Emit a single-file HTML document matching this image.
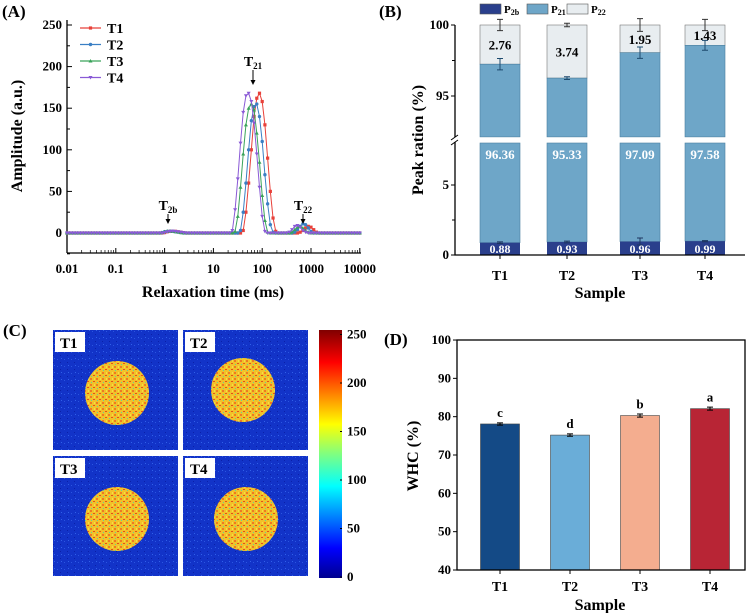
<!DOCTYPE html>
<html><head><meta charset="utf-8">
<style>
body{margin:0;background:#fff;}
svg{display:block;font-family:"Liberation Serif",serif;font-weight:bold;}
</style></head>
<body>
<svg id="fig" width="754" height="613" viewBox="0 0 754 613" xmlns="http://www.w3.org/2000/svg">
<defs>
<pattern id="noiseBg" width="7" height="7" patternUnits="userSpaceOnUse">
<rect width="7" height="7" fill="#1233c8"/>
<rect x="1" y="2" width="1" height="1" fill="#2a55e0"/><rect x="4" y="5" width="1" height="1" fill="#0a20a8"/><rect x="5" y="1" width="1" height="1" fill="#3060e8"/>
</pattern>
<pattern id="noiseFg" width="6" height="6" patternUnits="userSpaceOnUse">
<rect width="6" height="6" fill="#f2c12a"/>
<rect x="0" y="0" width="2" height="2" fill="#ee7a22"/><rect x="3" y="3" width="2" height="1" fill="#e5501a"/><rect x="4" y="0" width="1" height="2" fill="#f4e040"/><rect x="1" y="4" width="1" height="1" fill="#60d0a0"/>
</pattern>
<linearGradient id="jet" x1="0" y1="1" x2="0" y2="0">
<stop offset="0" stop-color="#00008f"/><stop offset="0.12" stop-color="#0000ff"/><stop offset="0.37" stop-color="#00ffff"/><stop offset="0.5" stop-color="#80ff80"/><stop offset="0.62" stop-color="#ffff00"/><stop offset="0.87" stop-color="#ff0000"/><stop offset="1" stop-color="#800000"/>
</linearGradient>
</defs>
<g id="pA"></g>
<g id="pB"></g>
<g id="pC"></g>
<g id="pD"></g>
</svg>
<script>
// ---------- Panel A data ----------
const seriesNames = ["T1","T2","T3","T4"];
const seriesColors = ["#e8413a","#3a7fc4","#3aa35a","#8a5ad6"];
const xTickLabels = ["0.01","0.1","1","10","100","1000","10000"];
const yTickLabelsA = [0,50,100,150,200,250];
// amplitudes on a log grid (18 points per decade, starting 0.01 ms); segments [startIndex, values]
const t1Peak2b = [36, [0.5,1.5,2,2,2,1.5,1,0.5]];
const t2Peak2b = [35, [0.5,1.5,2,2.2,2,1.5,1,0.5]];
const t3Peak2b = [35, [0.5,1.5,2.2,2.2,2,1.5,1,0.5]];
const t4Peak2b = [36, [0.5,1.5,2,2.2,2,1.5,1,0.5]];
const t1Peak21 = [65, [3,25,60,100,140,162,168,158,130,90,50,18,2]];
const t2Peak21 = [64, [3,25,60,100,135,152,155,140,110,70,35,10,1]];
const t3Peak21 = [62, [2,20,55,95,130,150,155,148,120,85,45,15,1]];
const t4Peak21 = [61, [3,28,65,108,145,165,168,158,132,95,55,20,2]];
const t1Peak22 = [86, [1,3,6,8,7,4,1]];
const t2Peak22 = [84, [1,4,8,11,10,6,2]];
const t3Peak22 = [83, [1,4,7,8,6,3,1]];
const t4Peak22 = [82, [1,4,8,9,7,3,1]];
const seriesSegments = [[t1Peak2b,t1Peak21,t1Peak22],[t2Peak2b,t2Peak21,t2Peak22],[t3Peak2b,t3Peak21,t3Peak22],[t4Peak2b,t4Peak21,t4Peak22]];

// ---------- Panel B data ----------
const samples = ["T1","T2","T3","T4"];
const p2b = [0.88,0.93,0.96,0.99];
const p21 = [96.36,95.33,97.09,97.58];
const p22 = [2.76,3.74,1.95,1.43];
const p2bErr = [0.06,0.06,0.25,0.04];
const p21Err = [0.4,0.1,0.4,0.35];
const p22Err = [0.4,0.12,0.45,0.4];

// ---------- Panel D data ----------
const whc = [78.1,75.2,80.3,82.1];
const whcErr = [0.3,0.3,0.4,0.4];
const whcLetters = ["c","d","b","a"];
const whcColors = ["#144a86","#6aadd8","#f4ad8f","#b82535"];
const yTickLabelsD = [40,50,60,70,80,90,100];

const NS="http://www.w3.org/2000/svg";
function mk(parent,tag,attrs,text){const e=document.createElementNS(NS,tag);for(const k in attrs)e.setAttribute(k,attrs[k]);if(text!==undefined)e.textContent=text;parent.appendChild(e);return e;}

// ================= Panel A =================
(function(){
const g=document.getElementById('pA');
const xA=t=>67+48.8*(Math.log10(t)+2);
const yA=v=>233-0.832*v;
let e=mk(g,'text',{x:2,y:17,'font-size':17},'(A)');

e=mk(g,'line',{x1:67,y1:20,x2:67,y2:253,stroke:'#000','stroke-width':1.3});

e=mk(g,'line',{x1:67,y1:253,x2:361,y2:253,stroke:'#000','stroke-width':1.3});

yTickLabelsA.forEach(v=>{
 mk(g,'line',{x1:67,y1:yA(v),x2:72,y2:yA(v),stroke:'#000'});
 e=mk(g,'text',{x:62,y:yA(v)+4,'text-anchor':'end','font-size':13},v);
 
 if(v<250)mk(g,'line',{x1:67,y1:yA(v+25),x2:70,y2:yA(v+25),stroke:'#000'});
});
mk(g,'line',{x1:67,y1:yA(-25),x2:70,y2:yA(-25),stroke:'#000'});
xTickLabels.forEach((lab,i)=>{
 const t=0.01*Math.pow(10,i);
 mk(g,'line',{x1:xA(t),y1:253,x2:xA(t),y2:248,stroke:'#000'});
 e=mk(g,'text',{x:xA(t),y:273,'text-anchor':'middle','font-size':13},lab);
 
 if(i<6)for(let m=2;m<10;m++)mk(g,'line',{x1:xA(t*m),y1:253,x2:xA(t*m),y2:250,stroke:'#000','stroke-width':0.7});
});
e=mk(g,'text',{x:213,y:297,'text-anchor':'middle','font-size':16},'Relaxation time (ms)');

e=mk(g,'text',{x:0,y:0,'text-anchor':'middle','font-size':16,transform:'translate(22,136) rotate(-90)'},'Amplitude (a.u.)');

const N=109;
function marker(par,k,x,y,c){
 let m;
 if(k===0)m=mk(par,'rect',{x:x-1.6,y:y-1.6,width:3.2,height:3.2,fill:c});
 else if(k===1)m=mk(par,'circle',{cx:x,cy:y,r:1.7,fill:c});
 else if(k===2)m=mk(par,'path',{d:`M${x},${y-2}L${x+2},${y+1.5}L${x-2},${y+1.5}Z`,fill:c});
 else m=mk(par,'path',{d:`M${x},${y+2}L${x+2},${y-1.5}L${x-2},${y-1.5}Z`,fill:c});
 return m;
}
seriesSegments.forEach((segs,k)=>{
 const vals=new Array(N).fill(0);
 segs.forEach(s=>s[1].forEach((v,j)=>{vals[s[0]+j]=v;}));
 const sg=mk(g,'g',{});
 
 
 const pts=vals.map((v,i)=>{const t=0.01*Math.pow(10,i/18);return [xA(t),yA(v)];});
 mk(sg,'polyline',{points:pts.map(p=>p.join(',')).join(' '),fill:'none',stroke:seriesColors[k],'stroke-width':1});
 pts.forEach(p=>{const m=marker(sg,k,p[0],p[1],seriesColors[k]);});
});
seriesNames.forEach((n,k)=>{
 const y=28+k*16.5;
 const lg=mk(g,'g',{});
 
 
 mk(lg,'line',{x1:80,y1:y,x2:101,y2:y,stroke:seriesColors[k],'stroke-width':1.2});
 marker(lg,k,90.5,y,seriesColors[k]);
 mk(lg,'text',{x:107,y:y+5,'font-size':14},n);
});
function ann(x,yt,ya,main,sub,name){
 const ag=mk(g,'g',{});
 
 const t=mk(ag,'text',{x:x,y:yt,'text-anchor':'middle','font-size':14},main);
 mk(t,'tspan',{'font-size':9,dy:3},sub);
 mk(ag,'line',{x1:x,y1:yt+4,x2:x,y2:ya-4,stroke:'#000'});
 mk(ag,'path',{d:`M${x-2.5},${ya-5}L${x+2.5},${ya-5}L${x},${ya}Z`});
}
ann(168,210,224,'T','2b','annotation-t2b');
ann(253,66,85,'T','21','annotation-t21');
ann(303,210,224,'T','22','annotation-t22');
})();

// ================= Panel B =================
(function(){
const g=document.getElementById('pB');
const yB=v=>v<=8?255-14*v:25+(100-v)*14.2;
const xC=[500,567,640,705], bw=40;
let e=mk(g,'text',{x:379,y:17,'font-size':17},'(B)');

[["#2a3f8c","2b"],["#6ea6c8","21"],["#e8edf0","22"]].forEach((l,i)=>{
 const x=[480,527,567][i];
 const lg=mk(g,'g',{});
 
 mk(lg,'rect',{x:x,y:4,width:21,height:10,fill:l[0],stroke:'#555','stroke-width':0.6});
 const t=mk(lg,'text',{x:x+24,y:13,'font-size':11},'P');
 mk(t,'tspan',{'font-size':8,dy:2},l[1]);
});
samples.forEach((s,i)=>{
 const x=xC[i]-bw/2;
 const bg=mk(g,'g',{});
 
 const top21=p2b[i]+p21[i];
 let r=mk(bg,'rect',{x:x,y:yB(100),width:bw,height:yB(top21)-yB(100),fill:'#e8edf0',stroke:'#777','stroke-width':0.6});
 
 r=mk(bg,'rect',{x:x,y:yB(top21),width:bw,height:yB(92.12)-yB(top21),fill:'#6ea6c8',stroke:'#4a7fa0','stroke-width':0.6});
 
 r=mk(bg,'rect',{x:x,y:yB(8),width:bw,height:yB(p2b[i])-yB(8),fill:'#6ea6c8',stroke:'#4a7fa0','stroke-width':0.6});
 
 r=mk(bg,'rect',{x:x,y:yB(p2b[i]),width:bw,height:yB(0)-yB(p2b[i]),fill:'#2a3f8c'});
 
 function eb(v,err,c){const a=yB(v+err),b=yB(v-err);mk(bg,'path',{d:`M${xC[i]},${a}V${b}M${xC[i]-3},${a}H${xC[i]+3}M${xC[i]-3},${b}H${xC[i]+3}`,stroke:c,'stroke-width':1,fill:'none'});}
 eb(100,p22Err[i],'#333');eb(top21,p21Err[i],'#1d4a6e');eb(p2b[i],p2bErr[i],'#1d3560');
 let t=mk(bg,'text',{x:xC[i],y:(yB(100)+yB(top21))/2+5,'text-anchor':'middle','font-size':13},p22[i].toFixed(2));
 
 t=mk(bg,'text',{x:xC[i],y:159,'text-anchor':'middle','font-size':13,fill:'#fff'},p21[i].toFixed(2));
 
 t=mk(bg,'text',{x:xC[i],y:yB(0)-2,'text-anchor':'middle','font-size':12,fill:'#fff'},p2b[i].toFixed(2));
 
 mk(g,'line',{x1:xC[i],y1:255,x2:xC[i],y2:259,stroke:'#000'});
 t=mk(g,'text',{x:xC[i],y:280,'text-anchor':'middle','font-size':14},s);
 
});
e=mk(g,'path',{d:'M455,25V137M455,142V255H745',stroke:'#000','stroke-width':1.3,fill:'none'});

mk(g,'path',{d:'M451,140L458,135M451,145L458,140',stroke:'#000','stroke-width':1});
[[100,'100'],[95,'95'],[5,'5'],[0,'0']].forEach(tk=>{
 mk(g,'line',{x1:451,y1:yB(tk[0]),x2:455,y2:yB(tk[0]),stroke:'#000'});
 const t=mk(g,'text',{x:449,y:yB(tk[0])+4,'text-anchor':'end','font-size':13},tk[1]);
 
});
[97.5,2.5].forEach(v=>mk(g,'line',{x1:452,y1:yB(v),x2:455,y2:yB(v),stroke:'#000'}));
e=mk(g,'text',{x:600,y:298,'text-anchor':'middle','font-size':16},'Sample');

e=mk(g,'text',{x:0,y:0,'text-anchor':'middle','font-size':16,transform:'translate(423,140) rotate(-90)'},'Peak ration (%)');

})();

// ================= Panel C =================
(function(){
const g=document.getElementById('pC');
let e=mk(g,'text',{x:3,y:336,'font-size':17},'(C)');

const imgs=[["T1",53,330,64,63],["T2",183,330,60,60],["T3",53,456,64,63],["T4",183,456,63,63]];
imgs.forEach(im=>{
 const ig=mk(g,'g',{});
 
 mk(ig,'rect',{x:im[1],y:im[2],width:125,height:120,fill:'url(#noiseBg)'});
 mk(ig,'circle',{cx:im[1]+im[3],cy:im[2]+im[4],r:32,fill:'url(#noiseFg)'});
 mk(ig,'rect',{x:im[1]+2,y:im[2]+2,width:30,height:20,fill:'#fff'});
 mk(ig,'text',{x:im[1]+7,y:im[2]+18,'font-size':15},im[0]);
});
e=mk(g,'rect',{x:319,y:330,width:23,height:248,fill:'url(#jet)'});

[0,50,100,150,200,250].forEach(v=>{
 const y=577-v*0.97;
 mk(g,'line',{x1:340,y1:y,x2:342,y2:y,stroke:'#000'});
 const t=mk(g,'text',{x:347,y:y+4,'font-size':13},v);
 
});
})();

// ================= Panel D =================
(function(){
const g=document.getElementById('pD');
const yD=v=>570-(v-40)*3.833;
const xC=[500,570,640,710], bw=39;
let e=mk(g,'text',{x:384,y:345,'font-size':17},'(D)');

whc.forEach((v,i)=>{
 const r=mk(g,'rect',{x:xC[i]-bw/2,y:yD(v),width:bw,height:yD(40)-yD(v),fill:whcColors[i],stroke:'#444','stroke-width':0.6});
 
 const a=yD(v+whcErr[i]),b=yD(v-whcErr[i]);
 mk(g,'path',{d:`M${xC[i]},${a}V${b}M${xC[i]-3},${a}H${xC[i]+3}M${xC[i]-3},${b}H${xC[i]+3}`,stroke:'#000',fill:'none'});
 let t=mk(g,'text',{x:xC[i],y:yD(v)-7,'text-anchor':'middle','font-size':13},whcLetters[i]);
 
 mk(g,'line',{x1:xC[i],y1:570,x2:xC[i],y2:574,stroke:'#000'});
 t=mk(g,'text',{x:xC[i],y:591,'text-anchor':'middle','font-size':14},samples[i]);
 
});
e=mk(g,'rect',{x:457,y:340,width:288,height:230,fill:'none',stroke:'#000','stroke-width':1.3});

yTickLabelsD.forEach(v=>{
 mk(g,'line',{x1:453,y1:yD(v),x2:457,y2:yD(v),stroke:'#000'});
 const t=mk(g,'text',{x:451,y:yD(v)+4,'text-anchor':'end','font-size':13},v);
 
});
e=mk(g,'text',{x:600,y:610,'text-anchor':'middle','font-size':16},'Sample');

e=mk(g,'text',{x:0,y:0,'text-anchor':'middle','font-size':16,transform:'translate(418,456) rotate(-90)'},'WHC (%)');

})();
</script>
</body></html>
